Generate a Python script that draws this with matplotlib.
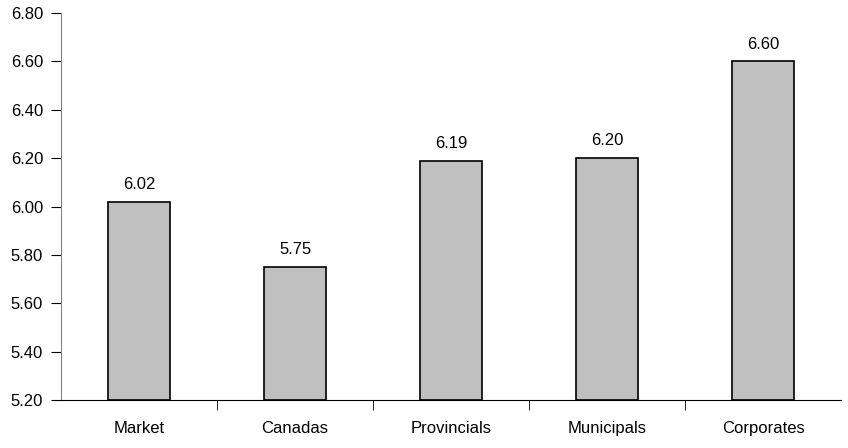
import numpy as np
import matplotlib.pyplot as plt
from matplotlib import font_manager

# data
categories = ['Market', 'Canadas', 'Provincials', 'Municipals', 'Corporates']
values = [6.02, 5.75, 6.19, 6.20, 6.60]

names = {f.name for f in font_manager.fontManager.ttflist}
fam = 'Liberation Sans Narrow' if 'Liberation Sans Narrow' in names else 'Liberation Sans'
plt.rcParams['font.family'] = [fam, 'DejaVu Sans']
plt.rcParams['font.size'] = 12

fig = plt.figure(figsize=(8.48, 4.48), dpi=100)
ax = fig.add_axes([0.072, 0.107, 0.92, 0.864])

x = np.arange(len(categories))
ax.bar(x, [v - 5.2 for v in values], bottom=5.2, width=0.4,
       color='#c0c0c0', edgecolor='black', linewidth=1.2, zorder=2)
for xi, v in zip(x, values):
    ax.text(xi, v + 0.04, '%.2f' % v, ha='center', va='bottom')

ax.set_xlim(-0.5, len(categories) - 0.5)
ax.set_ylim(5.2, 6.8)
ticks = np.arange(5.2, 6.81, 0.2)
ax.set_yticks(ticks)
ax.set_yticklabels(['%.2f' % t for t in ticks])

# category labels at centers, ticks at boundaries
ax.set_xticks(x)
ax.set_xticklabels(categories)
ax.tick_params(axis='x', which='major', length=0, pad=15)
ax.set_xticks(np.arange(0.5, len(categories) - 0.5, 1), minor=True)
ax.tick_params(axis='x', which='minor', length=7, color='black', direction='out')
ax.tick_params(axis='y', length=7, color='black', direction='out', pad=6)

for s in ['top', 'right']:
    ax.spines[s].set_visible(False)
ax.spines['left'].set_color('#808080')
ax.spines['bottom'].set_color('black')

fig.savefig('out.png', dpi=100)
